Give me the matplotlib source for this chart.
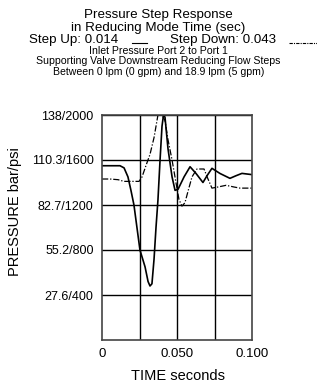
import numpy as np
import matplotlib.pyplot as plt
from matplotlib.lines import Line2D

plt.rcParams['font.family'] = ['Liberation Sans', 'DejaVu Sans']

# step up response (solid), time in s, pressure in psi
up_t = [0.0, 0.012, 0.0147, 0.0173, 0.0193, 0.0213, 0.0233, 0.0253, 0.0287,
        0.0307, 0.032, 0.0333, 0.0347, 0.036, 0.0373, 0.0387, 0.040, 0.041,
        0.042, 0.044, 0.0467, 0.0487, 0.0507, 0.0547, 0.0587, 0.0627, 0.0673,
        0.070, 0.0733, 0.0787, 0.0853, 0.0893, 0.0933, 0.100]
up_p = [1549, 1549, 1530, 1450, 1330, 1200, 1000, 800, 650,
        520, 480, 500, 720, 1000, 1244, 1600, 1900, 2000,
        1980, 1700, 1450, 1330, 1340, 1450, 1540, 1480, 1400,
        1460, 1526, 1480, 1437, 1460, 1481, 1470]

# step down response (dash-dot)
down_t = [0.0, 0.0053, 0.0107, 0.0147, 0.0187, 0.0247, 0.0267, 0.0293, 0.032,
          0.0347, 0.0373, 0.040, 0.042, 0.044, 0.0467, 0.0493, 0.0513, 0.0533,
          0.0553, 0.0573, 0.060, 0.0633, 0.068, 0.0707, 0.0733, 0.0773, 0.0827,
          0.088, 0.092, 0.100]
down_p = [1431, 1431, 1425, 1410, 1410, 1410, 1450, 1550, 1650,
          1800, 2000, 2000, 1950, 1780, 1600, 1400, 1250, 1190,
          1220, 1320, 1450, 1520, 1520, 1430, 1350, 1360, 1375,
          1360, 1350, 1350]

yticks = [400, 800, 1200, 1600, 2000]
ylabels = ['27.6/400', '55.2/800', '82.7/1200', '110.3/1600', '138/2000']
xticks = [0, 0.05, 0.1]
xlabels = ['0', '0.050', '0.100']

W, H = 317, 387
fig = plt.figure(figsize=(W / 100, H / 100), dpi=100)
ax = fig.add_axes([102 / W, 47 / H, 150 / W, 225 / H])

ax.plot(up_t, up_p, color='black', lw=1.2, solid_joinstyle='round')
ax.plot(down_t, down_p, color='black', lw=0.9, linestyle=(0, (5, 1.5, 1, 1.5)))

ax.set_xlim(0, 0.1)
ax.set_ylim(0, 2000)
ax.set_xticks([0.025, 0.05, 0.075])
ax.set_yticks(yticks)
ax.grid(True, color='black', lw=1.0)
ax.tick_params(length=0, labelsize=9, pad=6)
ax.set_yticklabels(ylabels)
ax.set_xticklabels([])
for s in ax.spines.values():
    s.set_linewidth(1.2)
    s.set_color('#444444')

for v, lab in zip(xticks, xlabels):
    ax.text(v, -0.035, lab, transform=ax.get_xaxis_transform(), ha='center',
            va='top', fontsize=9.5)

fig.text(178 / W, 1 - 376 / H, 'TIME seconds', ha='center', va='center', fontsize=10.5)
fig.text(15 / W, 1 - 212 / H, 'PRESSURE bar/psi', ha='center', va='center',
         rotation=90, fontsize=10.5)

# header
fig.text(0.5, 1 - 18 / H, 'Pressure Step Response', ha='center', va='baseline', fontsize=9.6)
fig.text(0.5, 1 - 30.5 / H, 'in Reducing Mode Time (sec)', ha='center', va='baseline', fontsize=9.6)
fig.text(29 / W, 1 - 43 / H, 'Step Up: 0.014', ha='left', va='baseline', fontsize=9.6)
fig.text(170 / W, 1 - 43 / H, 'Step Down: 0.043', ha='left', va='baseline', fontsize=9.6)
fig.add_artist(Line2D([132 / W, 147 / W], [1 - 42.5 / H, 1 - 42.5 / H], color='black', lw=0.8))
fig.add_artist(Line2D([289 / W, 317 / W], [1 - 42.5 / H, 1 - 42.5 / H], color='black', lw=0.8,
                      linestyle=(0, (3, 1, 1, 1))))
fig.text(0.5, 1 - 53.5 / H, 'Inlet Pressure Port 2 to Port 1', ha='center', va='baseline', fontsize=7.6)
fig.text(0.5, 1 - 64 / H, 'Supporting Valve Downstream Reducing Flow Steps',
         ha='center', va='baseline', fontsize=7.6)
fig.text(0.5, 1 - 75 / H, 'Between 0 lpm (0 gpm) and 18.9 lpm (5 gpm)',
         ha='center', va='baseline', fontsize=7.6)

fig.savefig('out.png', dpi=100)
